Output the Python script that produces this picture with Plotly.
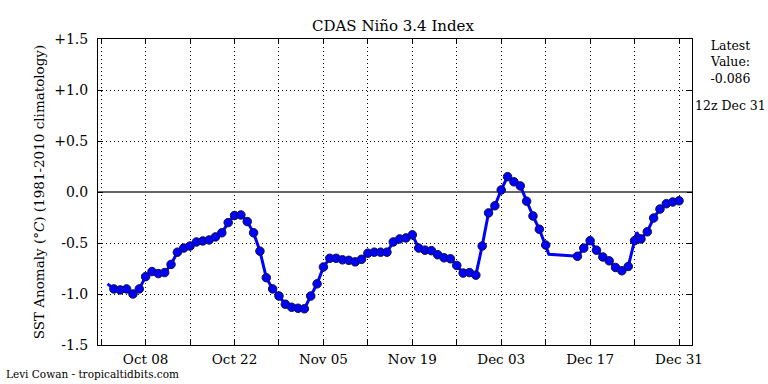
import datetime as dt
import plotly.graph_objects as go

# ---- data ----
YEAR = 2016
marker_dates = (
    [dt.datetime(YEAR, 10, d) for d in range(3, 32)]
    + [dt.datetime(YEAR, 11, d) for d in range(1, 31)]
    + [dt.datetime(YEAR, 12, d) for d in range(1, 11)]
    + [dt.datetime(YEAR, 12, d) for d in range(15, 32)]
)
marker_values = [
    # Oct 03 - Oct 31
    -0.95, -0.96, -0.95, -1.00, -0.95, -0.83, -0.78, -0.80, -0.79, -0.71,
    -0.59, -0.55, -0.53, -0.49, -0.48, -0.47, -0.44, -0.40, -0.30, -0.23,
    -0.225, -0.29, -0.40, -0.58, -0.84, -0.95, -1.02, -1.10, -1.13,
    # Nov 01 - Nov 30
    -1.14, -1.145, -1.02, -0.90, -0.735, -0.65, -0.65, -0.665, -0.67, -0.685,
    -0.66, -0.60, -0.59, -0.59, -0.59, -0.49, -0.46, -0.45, -0.42, -0.55,
    -0.57, -0.575, -0.615, -0.645, -0.655, -0.72, -0.795, -0.79, -0.815, -0.53,
    # Dec 01 - Dec 10
    -0.205, -0.135, 0.02, 0.15, 0.10, 0.06, -0.09, -0.235, -0.365, -0.52,
    # Dec 15 - Dec 31
    -0.63, -0.55, -0.477, -0.57, -0.637, -0.675, -0.74, -0.772, -0.73, -0.477,
    -0.46, -0.39, -0.255, -0.167, -0.115, -0.098, -0.086,
]
# extra (un-marked) points that only the line passes through
extra_dates = [dt.datetime(YEAR, 10, 2, 0), dt.datetime(YEAR, 12, 10, 12),
               dt.datetime(YEAR, 12, 24, 8)]
extra_values = [-0.90, -0.61, -0.395]

tick_dates = [dt.datetime(YEAR, 10, 1) + dt.timedelta(days=7 * i) for i in range(14)]
tick_labels = ["" if i % 2 == 0 else tick_dates[i].strftime("%b %d") for i in range(14)]
y_tickvals = [-1.5, -1.0, -0.5, 0.0, 0.5, 1.0, 1.5]
y_ticklabels = ["-1.5", "-1.0", "-0.5", "0.0", "+0.5", "+1.0", "+1.5"]

line_pts = sorted(zip(marker_dates + extra_dates, marker_values + extra_values))
line_dates = [p[0] for p in line_pts]
line_values = [p[1] for p in line_pts]

FONT = "DejaVu Serif, Liberation Serif, serif"

fig = go.Figure()
fig.add_trace(go.Scatter(x=line_dates, y=line_values, mode="lines",
                         line=dict(color="#0000ff", width=3), hoverinfo="skip",
                         showlegend=False))
fig.add_trace(go.Scatter(x=marker_dates, y=marker_values, mode="markers",
                         marker=dict(color="#0000ff", size=8.5,
                                     line=dict(color="#101040", width=1)),
                         showlegend=False))

x0 = dt.datetime(YEAR, 9, 30, 12)
x1 = dt.datetime(YEAR, 12, 31) + dt.timedelta(days=2, hours=1)

fig.update_layout(
    width=768, height=384,
    margin=dict(l=98, r=76, t=39, b=39),
    paper_bgcolor="white", plot_bgcolor="white",
    font=dict(family=FONT, color="black", size=13),
    title=dict(text="CDAS Niño 3.4 Index", x=393 / 768,
               xanchor="center", y=1 - 26 / 384, yanchor="middle",
               font=dict(family=FONT, size=15, color="black")),
    xaxis=dict(range=[x0, x1], tickvals=tick_dates, ticktext=tick_labels,
               ticks="inside", ticklen=5, tickcolor="black",
               showline=True, linecolor="black", linewidth=1, mirror="allticks",
               showgrid=True, gridcolor="black", gridwidth=1, griddash="1px,3px",
               zeroline=False, ticklabelstandoff=2,
               tickfont=dict(family=FONT, size=13.5)),
    yaxis=dict(range=[-1.5, 1.5], tickvals=y_tickvals, ticktext=y_ticklabels,
               ticks="inside", ticklen=5, tickcolor="black",
               showline=True, linecolor="black", linewidth=1, mirror="allticks",
               showgrid=True, gridcolor="black", gridwidth=1, griddash="1px,3px",
               zeroline=True, zerolinecolor="#666666", zerolinewidth=1.8,
               ticklabelstandoff=6,
               tickfont=dict(family=FONT, size=14),
               title=dict(text="SST Anomaly (<i>°C</i>) (1981-2010 climatology)",
                          font=dict(family=FONT, size=13.5), standoff=6)),
    annotations=[
        dict(text="Latest<br>Value:<br>-0.086", xref="paper", yref="paper",
             x=(730 - 98) / (692 - 98), y=1 + (39 - 36) / 306, xanchor="center",
             yanchor="top", showarrow=False, align="center",
             font=dict(family=FONT, size=12.5)),
        dict(text="12z Dec 31", xref="paper", yref="paper",
             x=(730 - 98) / (692 - 98), y=(345 - 105) / 306, xanchor="center",
             yanchor="middle", showarrow=False,
             font=dict(family=FONT, size=12.5)),
        dict(text="Levi Cowan - tropicaltidbits.com", xref="paper", yref="paper",
             x=(4 - 98) / (692 - 98), y=-(374 - 345) / 306, xanchor="left",
             yanchor="middle", showarrow=False,
             font=dict(family=FONT, size=10.5)),
    ],
)

fig.write_html("out.html", config={"displayModeBar": False},
               post_script="document.body.style.margin='0';"
                           "document.body.style.overflow='hidden';")
